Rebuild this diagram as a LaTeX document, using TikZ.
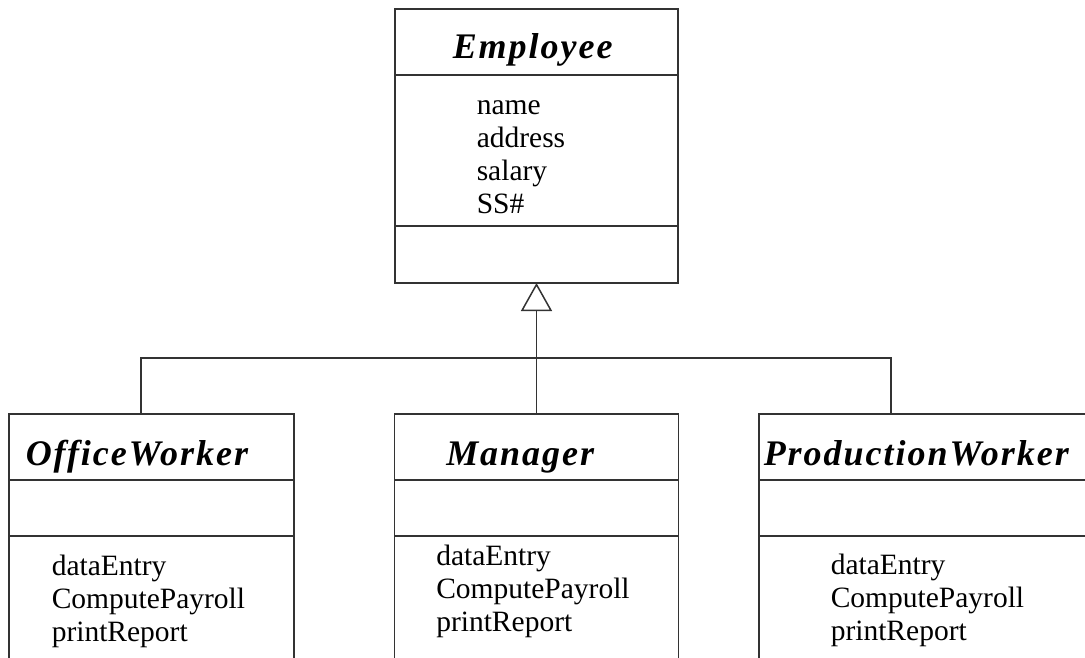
\documentclass[tikz,border=0pt]{standalone}
\usepackage{fontspec}
\setmainfont{Liberation Serif}
\usetikzlibrary{arrows.meta,positioning}
\tikzset{
  basic/.style  = {draw=black!80, line width=1.5pt, rectangle, outer sep=0pt, inner sep=0pt},
  head/.style   = {basic, minimum height=66pt},
  part/.style   = {basic},
  title/.style  = {anchor=base west, inner sep=0pt,
                   font=\fontsize{36}{40}\selectfont\bfseries\itshape\addfontfeature{LetterSpace=5.5}},
  member/.style = {anchor=north west, inner sep=0pt, align=left,
                   font=\fontsize{29.5}{33}\selectfont}
}
\begin{document}
\begin{tikzpicture}[x=1pt, y=-1pt, line width=1.5pt, draw=black!80,
  >={Triangle[open,length=28pt,width=31pt]}]
\useasboundingbox (0,0) rectangle (1085,658);
\clip (0,0) rectangle (1085,658);

% the superclass, three compartments
\node[head, minimum width=283pt] (emp) at (536.5,42) {};
\node[part, minimum width=283pt, minimum height=151pt, below=0pt of emp] (empA) {};
\node[part, minimum width=283pt, minimum height=57pt, below=0pt of empA] (empO) {};
\node[title] (empT) at ([shift={(57,50)}]emp.north west) {Employee};
\node[member] (empM) at ([shift={(81,24.5)}]empA.north west) {name\\address\\salary\\SS\#};

% the subclasses
\node[head, minimum width=285pt] (ow) at (151.5,447) {};
\node[part, minimum width=285pt, minimum height=56pt, below=0pt of ow] (owA) {};
\node[part, minimum width=285pt, minimum height=160pt, below=0pt of owA] (owO) {};
\node[title] (owT) at ([shift={(16,51)}]ow.north west) {OfficeWorker};
\node[member] (owM) at ([shift={(42,18.5)}]owO.north west) {dataEntry\\ComputePayroll\\printReport};

\node[head, minimum width=284pt] (mgr) at (536.5,447) {};
\node[part, minimum width=284pt, minimum height=56pt, below=0pt of mgr] (mgrA) {};
\node[part, minimum width=284pt, minimum height=160pt, below=0pt of mgrA] (mgrO) {};
\node[title] (mgrT) at ([shift={(51,51)}]mgr.north west) {Manager};
\node[member] (mgrM) at ([shift={(41,8.5)}]mgrO.north west) {dataEntry\\ComputePayroll\\printReport};

\node[head, minimum width=341pt] (pw) at (929.5,447) {};
\node[part, minimum width=341pt, minimum height=56pt, below=0pt of pw] (pwA) {};
\node[part, minimum width=341pt, minimum height=160pt, below=0pt of pwA] (pwO) {};
\node[title] (pwT) at ([shift={(4,51)}]pw.north west) {ProductionWorker};
\node[member] (pwM) at ([shift={(71,17.5)}]pwO.north west) {dataEntry\\ComputePayroll\\printReport};

% generalization
\coordinate (owIn) at ([xshift=-10.5pt]ow.north);
\coordinate (pwIn) at ([xshift=-38.5pt]pw.north);
\coordinate (bus) at ([yshift=56pt]mgr.north);
\draw[->] (mgr.north) -- (empO.south);
\draw (owIn) |- (bus) -| (pwIn);

\end{tikzpicture}
\end{document}
